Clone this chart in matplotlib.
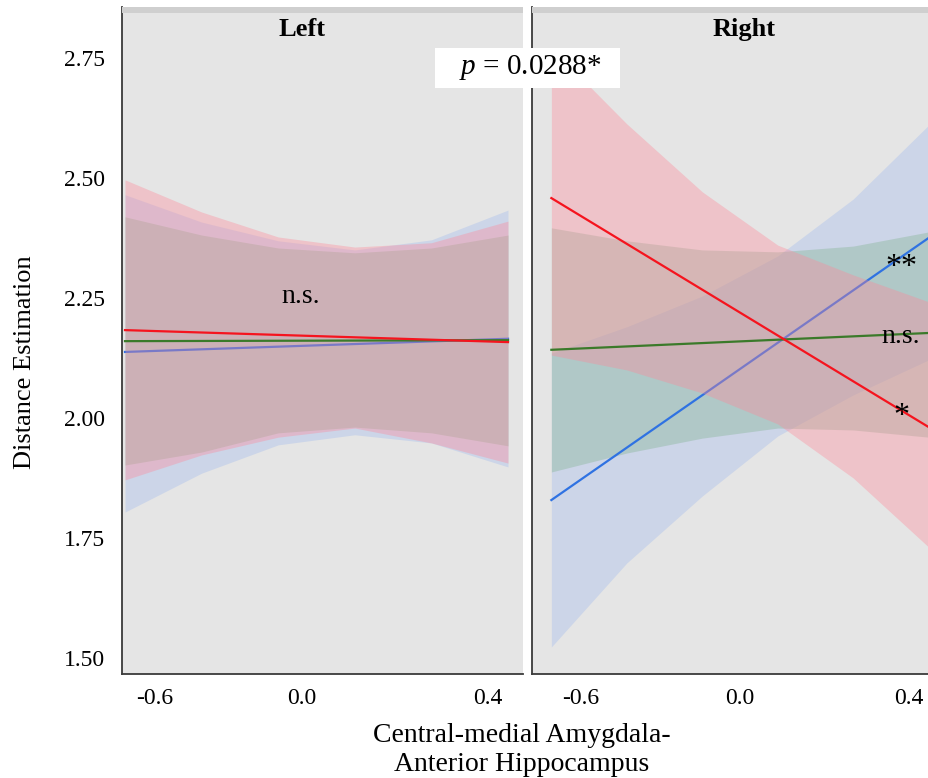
import matplotlib
matplotlib.use("Agg")
import matplotlib.pyplot as plt
from matplotlib.patches import Rectangle

plt.rcParams['font.family'] = ['Liberation Serif', 'DejaVu Serif']
plt.rcParams['mathtext.fontset'] = 'custom'
plt.rcParams['mathtext.rm'] = 'Liberation Serif'
plt.rcParams['mathtext.it'] = 'Liberation Serif:italic'

# --- data ---
x_knots = [-0.69, -0.46, -0.23, 0.0, 0.23, 0.46]
x_ends = [-0.69, 0.46]

# Left hemisphere
left_red_hi = [2.496, 2.429, 2.377, 2.356, 2.365, 2.410]
left_red_lo = [1.871, 1.923, 1.960, 1.979, 1.948, 1.906]
left_blue_hi = [2.465, 2.408, 2.369, 2.350, 2.371, 2.433]
left_blue_lo = [1.804, 1.885, 1.944, 1.965, 1.948, 1.898]
left_green_hi = [2.419, 2.381, 2.354, 2.344, 2.354, 2.381]
left_green_lo = [1.902, 1.929, 1.969, 1.981, 1.969, 1.942]
left_red_line = [2.183, 2.158]
left_green_line = [2.160, 2.162]
left_blue_line = [2.1375, 2.165]

# Right hemisphere
right_red_hi = [2.771, 2.6125, 2.471, 2.360, 2.298, 2.242]
right_red_lo = [2.131, 2.100, 2.052, 1.9875, 1.875, 1.731]
right_blue_hi = [2.135, 2.190, 2.254, 2.3375, 2.456, 2.610]
right_blue_lo = [1.523, 1.698, 1.8375, 1.9625, 2.048, 2.121]
right_green_hi = [2.396, 2.369, 2.350, 2.346, 2.358, 2.3875]
right_green_lo = [1.8875, 1.927, 1.958, 1.979, 1.975, 1.960]
right_red_line = [2.458, 1.981]
right_green_line = [2.142, 2.177]
right_blue_line = [1.829, 2.375]

y_ticks = [1.50, 1.75, 2.00, 2.25, 2.50, 2.75]
x_tick_labels = ['-0.6', '0.0', '0.4']

# --- style ---
BG = '#e5e5e5'
STRIP = '#cfcfcf'
RED_FILL, BLUE_FILL, GREEN_FILL = '#ff8798', '#a0baee', '#80b18f'
RED, BLUE, GREEN = '#f5141e', '#2f72e2', '#3a7a2a'
ALPHA = 0.36

W, H = 929, 778
fig = plt.figure(figsize=(W / 100, H / 100), dpi=100, facecolor='white')


def px_axes(x0, x1, y_top, y_bot):
    return fig.add_axes([x0 / W, 1 - y_bot / H, (x1 - x0) / W, (y_bot - y_top) / H])


ax_l = px_axes(122, 523, 7, 674)
ax_r = px_axes(532, 929, 7, 674)

panels = [
    (ax_l, 'Left', 0.449, (-0.699, 0.505), [-0.6, -0.16, 0.4],
     (left_red_hi, left_red_lo, left_blue_hi, left_blue_lo, left_green_hi, left_green_lo),
     (left_red_line, left_green_line, left_blue_line)),
    (ax_r, 'Right', 0.534, (-0.749, 0.461), [-0.6, -0.115, 0.4],
     (right_red_hi, right_red_lo, right_blue_hi, right_blue_lo, right_green_hi, right_green_lo),
     (right_red_line, right_green_line, right_blue_line)),
]

for ax, title, tx, xlim, xticks, bands, lines in panels:
    red_hi, red_lo, blue_hi, blue_lo, green_hi, green_lo = bands
    red_line, green_line, blue_line = lines
    ax.set_facecolor(BG)
    ax.fill_between(x_knots, blue_lo, blue_hi, color=BLUE_FILL, alpha=ALPHA, lw=0, zorder=1)
    ax.fill_between(x_knots, green_lo, green_hi, color=GREEN_FILL, alpha=ALPHA, lw=0, zorder=2)
    ax.plot(x_ends, blue_line, color=BLUE, lw=1.6, zorder=3)
    ax.fill_between(x_knots, red_lo, red_hi, color=RED_FILL, alpha=ALPHA, lw=0, zorder=4)
    ax.plot(x_ends, green_line, color=GREEN, lw=1.6, zorder=5)
    ax.plot(x_ends, red_line, color=RED, lw=1.6, zorder=6)

    ax.set_xlim(*xlim)
    ax.set_ylim(1.4667, 2.856)
    ax.set_xticks(xticks)
    ax.set_xticklabels(x_tick_labels, fontsize=17)
    ax.set_yticks(y_ticks)
    ax.tick_params(length=0, pad=10)
    ax.tick_params(axis='y', pad=12, labelsize=17)
    for s in ['top', 'right']:
        ax.spines[s].set_visible(False)
    for s in ['left', 'bottom']:
        ax.spines[s].set_color('#3a3a3a')
        ax.spines[s].set_linewidth(1.3)
    ax.add_patch(Rectangle((0, 1 - 6 / 667), 1, 6 / 667, transform=ax.transAxes,
                           color=STRIP, lw=0, zorder=7, clip_on=False))
    ax.text(tx, 0.966, title, transform=ax.transAxes, ha='center', va='center',
            fontsize=19, fontweight='bold', zorder=8)

ax_l.set_yticklabels([f'{v:.2f}' for v in y_ticks])
ax_r.set_yticklabels([])

# significance marks
ax_l.text(-0.162, 2.252, 'n.s.', ha='center', va='center', fontsize=20, zorder=8)
ax_r.text(0.376, 2.169, 'n.s.', ha='center', va='center', fontsize=20, zorder=8)
ax_r.text(0.376, 2.313, '**', ha='center', va='center', fontsize=23, zorder=8)
ax_r.text(0.376, 2.004, '*', ha='center', va='center', fontsize=23, zorder=8)

# p-value box
fig.add_artist(Rectangle((435 / W, 1 - 88 / H), 185 / W, 40 / H, transform=fig.transFigure,
                         facecolor='white', edgecolor='none', zorder=9))
fig.text(530 / W, 1 - 68 / H, r'$p$ = 0.0288*', ha='center', va='center', fontsize=21, zorder=10)

fig.text(25 / W, 1 - 362 / H, 'Distance Estimation', rotation=90, ha='center', va='center', fontsize=19)
fig.text(522 / W, 1 - 750 / H, 'Central-medial Amygdala-\nAnterior Hippocampus', ha='center', va='center',
         fontsize=20, linespacing=1.25)

fig.savefig('out.png', dpi=100, facecolor='white')
